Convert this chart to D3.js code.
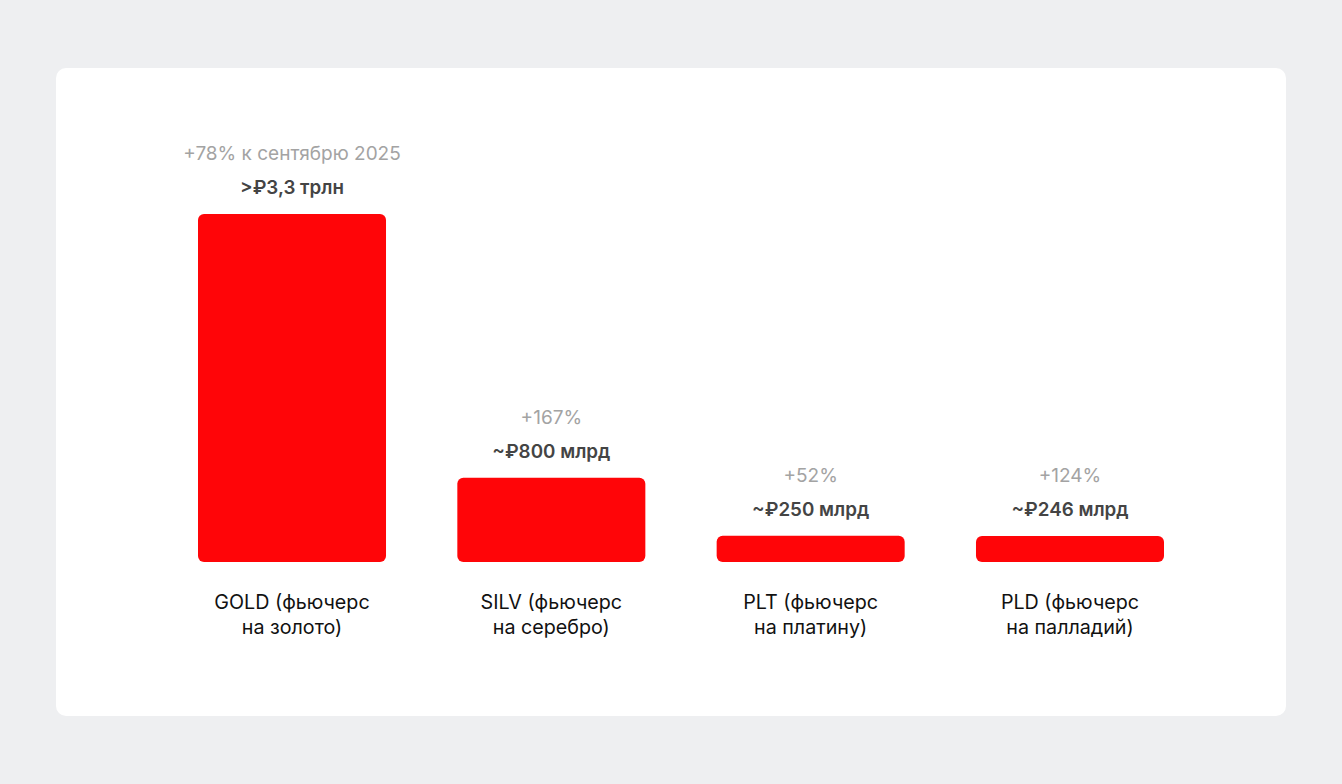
<!DOCTYPE html>
<html><head><meta charset="utf-8">
<script src="https://cdn.jsdelivr.net/npm/d3@7"></script>
<style>
html,body{margin:0;padding:0;background:#eeeff1;}
svg{display:block;font-family:Inter, "Noto Sans", sans-serif;}
</style></head>
<body>
<svg id="chart" width="1342" height="784"></svg>
<script>
const categories = ["GOLD", "SILV", "PLT", "PLD"];
const labelLine1 = ["GOLD (фьючерс", "SILV (фьючерс", "PLT (фьючерс", "PLD (фьючерс"];
const labelLine2 = ["на золото)", "на серебро)", "на платину)", "на палладий)"];
const valuesBln = [3300, 800, 250, 246];
const valueLabels = [">₽3,3 трлн", "~₽800 млрд", "~₽250 млрд", "~₽246 млрд"];
const growthLabels = ["+78% к сентябрю 2025", "+167%", "+52%", "+124%"];

const svg = d3.select("#chart");
svg.append("rect").attr("x",56).attr("y",68).attr("width",1230).attr("height",648)
  .attr("rx",10).attr("fill","#ffffff");

const x = d3.scaleBand().domain(categories).range([198,1164]).paddingInner(0.275).paddingOuter(0);
const y = d3.scaleLinear().domain([0,3300]).range([562,214]);

const g = svg.append("g");
categories.forEach((c,i)=>{
  const x0 = x(c), w = x.bandwidth(), yt = y(valuesBln[i]), cx = x0 + w/2;
  const h = y(0) - yt;
  g.append("rect").attr("x",x0).attr("y",yt).attr("width",w).attr("height",h)
    .attr("rx",Math.min(6,h/2)).attr("fill","#ff0508");
  g.append("text").attr("x",cx).attr("y",yt-20).attr("text-anchor","middle")
    .attr("font-size",18.8).attr("font-weight",600).attr("fill","#444").text(valueLabels[i]);
  g.append("text").attr("x",cx).attr("y",yt-54).attr("text-anchor","middle")
    .attr("font-size",19).attr("fill","#a3a3a3").text(growthLabels[i]);
  g.append("text").attr("x",cx).attr("y",609).attr("text-anchor","middle")
    .attr("font-size",19.7).attr("fill","#111").text(labelLine1[i]);
  g.append("text").attr("x",cx).attr("y",634).attr("text-anchor","middle")
    .attr("font-size",19.7).attr("fill","#111").text(labelLine2[i]);
});
</script>
</body></html>
